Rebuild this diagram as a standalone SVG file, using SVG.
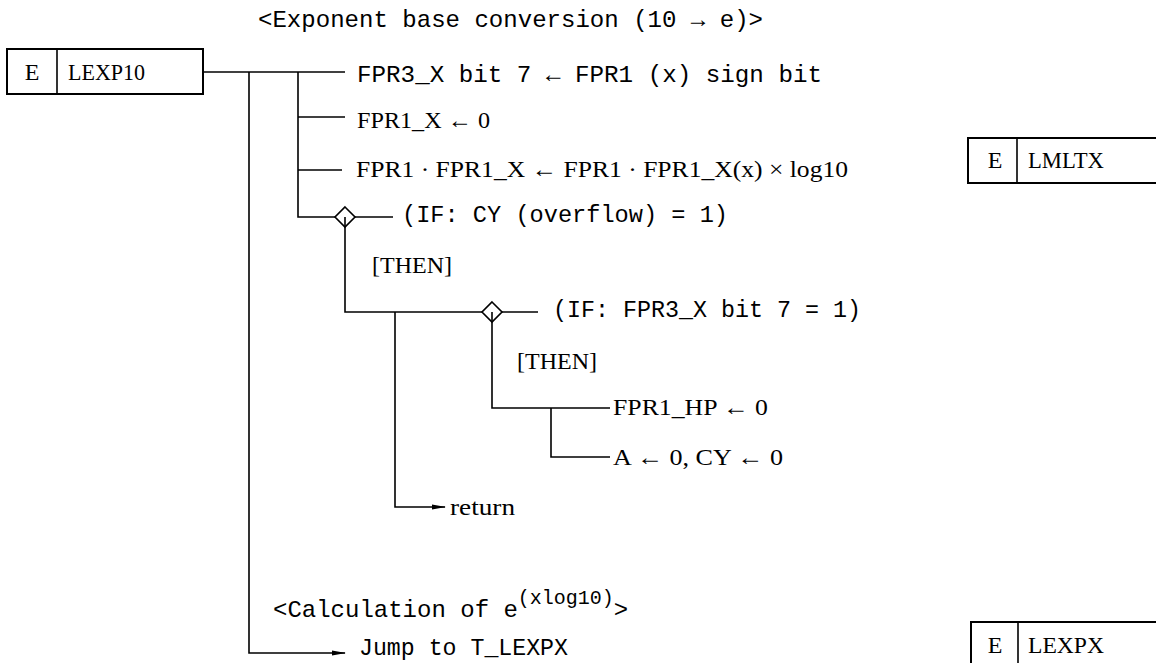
<svg xmlns="http://www.w3.org/2000/svg" width="1156" height="663" viewBox="0 0 1156 663">
<defs>
<style>
.ln{fill:none;stroke:#000;stroke-width:1.6}
.box{fill:#fff;stroke:#000;stroke-width:2}
.mono{font-family:"Liberation Mono","DejaVu Sans Mono",monospace;font-size:24px;fill:#000}
.ser{font-family:"Liberation Serif","DejaVu Serif",serif;font-size:24px;fill:#000}
.dia{fill:#fff;stroke:#000;stroke-width:1.6}
</style>
<marker id="arr" markerWidth="14" markerHeight="8" refX="13" refY="4" orient="auto" markerUnits="userSpaceOnUse">
<path d="M0,1.5 L14,4 L0,6.5 Z" fill="#000"/>
</marker>
</defs>
<rect width="1156" height="663" fill="#fff"/>

<text class="mono" x="258" y="27" textLength="505" lengthAdjust="spacingAndGlyphs">&lt;Exponent base conversion (10 → e)&gt;</text>

<g id="node-lexp10">
<rect class="box" x="7" y="49" width="196" height="45"/>
<line class="ln" x1="57" y1="49" x2="57" y2="94"/>
<text class="ser" x="32" y="80" text-anchor="middle">E</text>
<text class="ser" x="68" y="80" textLength="77" lengthAdjust="spacingAndGlyphs">LEXP10</text>
</g>

<g id="node-lmltx">
<rect class="box" x="968" y="138" width="200" height="45"/>
<line class="ln" x1="1017" y1="138" x2="1017" y2="183"/>
<text class="ser" x="995" y="168" text-anchor="middle">E</text>
<text class="ser" x="1028" y="168" textLength="76" lengthAdjust="spacingAndGlyphs">LMLTX</text>
</g>

<g id="node-lexpx">
<rect class="box" x="971" y="622" width="200" height="50"/>
<line class="ln" x1="1018" y1="622" x2="1018" y2="672"/>
<text class="ser" x="995" y="653" text-anchor="middle">E</text>
<text class="ser" x="1028" y="653" textLength="76" lengthAdjust="spacingAndGlyphs">LEXPX</text>
</g>

<g id="connectors">
<path class="ln" d="M203,72 H345"/>
<path class="ln" d="M249,72 V653 H345" marker-end="url(#arr)"/>
<path class="ln" d="M298,72 V217 H335"/>
<path class="ln" d="M298,117 H345"/>
<path class="ln" d="M298,170 H342"/>
<path class="ln" d="M355,217 H393"/>
<path class="ln" d="M345,217 V312 H482"/>
<path class="ln" d="M502,312 H538"/>
<path class="ln" d="M395,312 V507 H445" marker-end="url(#arr)"/>
<path class="ln" d="M492,312 V408 H610"/>
<path class="ln" d="M551,408 V457 H610"/>
</g>

<g id="node-if1">
<path class="dia" d="M345,207 L355,217 L345,227 L335,217 Z"/>
<line class="ln" x1="345" y1="217" x2="345" y2="227"/>
<text class="mono" x="402" y="222" textLength="326" lengthAdjust="spacingAndGlyphs">(IF: CY (overflow) = 1)</text>
<text class="ser" x="372" y="273" textLength="80" lengthAdjust="spacingAndGlyphs">[THEN]</text>
</g>

<g id="node-if2">
<path class="dia" d="M492,302 L502,312 L492,322 L482,312 Z"/>
<line class="ln" x1="492" y1="312" x2="492" y2="322"/>
<text class="mono" x="553" y="317" textLength="308" lengthAdjust="spacingAndGlyphs">(IF: FPR3_X bit 7 = 1)</text>
<text class="ser" x="517" y="369" textLength="80" lengthAdjust="spacingAndGlyphs">[THEN]</text>
</g>

<g id="node-s1"><text class="mono" x="357" y="82" textLength="465" lengthAdjust="spacingAndGlyphs">FPR3_X bit 7 ← FPR1 (x) sign bit</text></g>
<g id="node-s2"><text class="ser" x="357" y="128" textLength="133" lengthAdjust="spacingAndGlyphs">FPR1_X ← 0</text></g>
<g id="node-s3"><text class="ser" x="356" y="177" textLength="492" lengthAdjust="spacingAndGlyphs">FPR1 · FPR1_X ← FPR1 · FPR1_X(x) × log10</text></g>
<g id="node-s4"><text class="ser" x="613" y="415" textLength="155" lengthAdjust="spacingAndGlyphs">FPR1_HP ← 0</text></g>
<g id="node-s5"><text class="ser" x="613" y="465" textLength="170" lengthAdjust="spacingAndGlyphs">A ← 0, CY ← 0</text></g>
<g id="node-return"><text class="ser" x="450" y="515" textLength="65" lengthAdjust="spacingAndGlyphs">return</text></g>

<g id="node-calc">
<text class="mono" x="273" y="617" font-size="22.5">&lt;Calculation of e<tspan font-size="20" dy="-13">(xlog10)</tspan><tspan dy="13">&gt;</tspan></text>
</g>
<g id="node-jump"><text class="mono" x="359" y="655" textLength="209" lengthAdjust="spacingAndGlyphs">Jump to T_LEXPX</text></g>
</svg>
